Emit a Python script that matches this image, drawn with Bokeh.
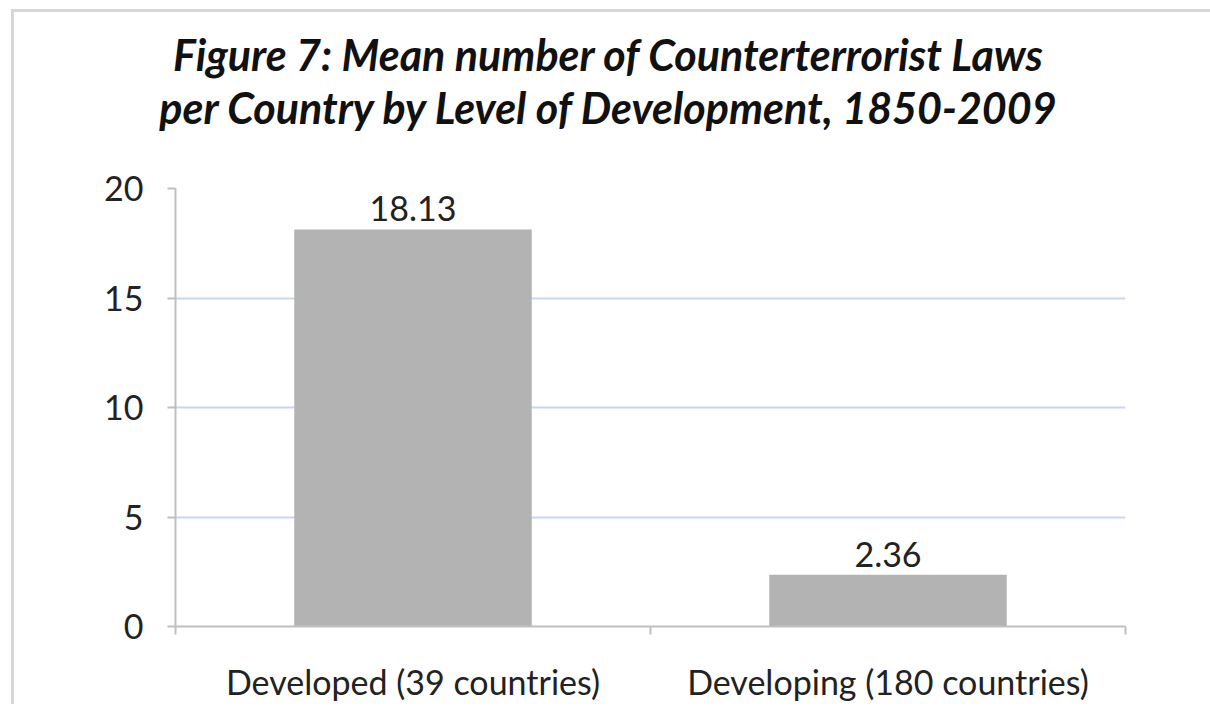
from bokeh.plotting import figure
from bokeh.models import Range1d, FixedTicker, ColumnDataSource, Div
from bokeh.layouts import column
from bokeh.core.properties import value
from bokeh.embed import file_html
from bokeh.resources import INLINE

# ---- data ----
categories = ["Developed (39 countries)", "Developing (180 countries)"]
values = [18.13, 2.36]
value_labels = ["18.13", "2.36"]
y_ticks = [0, 5, 10, 15, 20]
title_lines = ["Figure 7: Mean number of Counterterrorist Laws",
               "per Country by Level of Development, 1850-2009"]

FONT = "Lato"
TXT = "#222222"
AXIS = "#bfbfbf"
CW = 1206          # content width
TH = 129           # title block height
PH = 565           # plot height

x_pos = [i + 0.5 for i in range(len(categories))]
boundaries = [float(i) for i in range(len(categories) + 1)]

src = ColumnDataSource(dict(x=x_pos, top=values, label=value_labels))

title_html = (
    '<div style="font-family: Lato, sans-serif; font-weight: bold; '
    'font-style: italic; font-size: 43px; line-height: 53px; color: #111; '
    'text-align: center; width: 1206px; margin-top: 23px;">'
    + "<br>".join(title_lines) + "</div>"
)
title_div = Div(text=title_html, width=CW, height=TH)

p = figure(width=CW, height=PH, output_backend="svg", toolbar_location=None,
           title=None,
           x_range=Range1d(0, len(categories)), y_range=Range1d(0, 20),
           min_border_left=175, min_border_right=CW - 1125, min_border_top=49,
           min_border_bottom=78)
p.outline_line_color = None
p.background_fill_color = "white"
p.border_fill_color = None

p.vbar(x="x", top="top", width=0.5, source=src, fill_color="#b3b3b3",
       line_color=None)
p.text(x="x", y="top", text="label", source=src, text_align="center",
       text_baseline="bottom", y_offset=-8, text_font=value(FONT),
       text_font_size="34px", text_color=TXT)

# y axis
p.yaxis.ticker = FixedTicker(ticks=y_ticks)
p.yaxis.axis_line_color = AXIS
p.yaxis.axis_line_width = 2
p.yaxis.major_tick_line_color = AXIS
p.yaxis.major_tick_line_width = 2
p.yaxis.major_tick_out = 8
p.yaxis.major_tick_in = 0
p.yaxis.minor_tick_line_color = None
p.yaxis.major_label_standoff = 24
p.yaxis.major_label_text_font = FONT
p.yaxis.major_label_text_font_size = "34px"
p.yaxis.major_label_text_color = TXT

# x axis
p.xaxis.ticker = FixedTicker(ticks=x_pos, minor_ticks=boundaries)
p.xaxis.major_label_overrides = {x: c for x, c in zip(x_pos, categories)}
p.xaxis.axis_line_color = AXIS
p.xaxis.axis_line_width = 2
p.xaxis.major_tick_line_color = None
p.xaxis.major_tick_out = 0
p.xaxis.major_tick_in = 0
p.xaxis.minor_tick_line_color = AXIS
p.xaxis.minor_tick_line_width = 2
p.xaxis.minor_tick_out = 8
p.xaxis.minor_tick_in = 0
p.xaxis.major_label_standoff = 26
p.xaxis.major_label_text_font = FONT
p.xaxis.major_label_text_font_size = "34px"
p.xaxis.major_label_text_color = TXT

# grid
p.xgrid.visible = False
p.ygrid.grid_line_color = "#c9d7ee"
p.ygrid.grid_line_width = 2

layout = column(title_div, p, spacing=0)
# chart-area border (left and top edges), drawn as background lines
layout.styles = {
    "background-color": "white",
    "background-image": "linear-gradient(#d6d6d6, #d6d6d6), linear-gradient(#d6d6d6, #d6d6d6)",
    "background-position": "11px 9px, 11px 9px",
    "background-size": "3px 100%, 100% 3px",
    "background-repeat": "no-repeat, no-repeat",
}

open("out.html", "w").write(file_html(layout, INLINE))
